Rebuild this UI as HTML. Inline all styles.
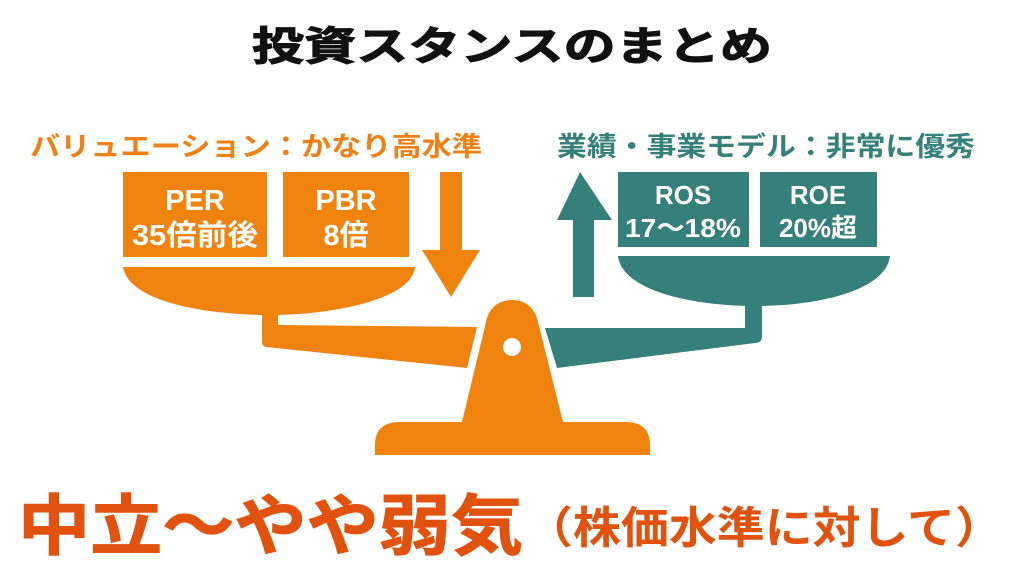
<!DOCTYPE html><html><head><meta charset="utf-8"><style>
html,body{margin:0;padding:0;background:#fff;width:1024px;height:572px;overflow:hidden}
svg text{font-family:"Liberation Sans","Noto Sans CJK JP",sans-serif;font-weight:bold}
</style></head><body>
<svg width="1024" height="572" viewBox="0 0 1024 572" xmlns="http://www.w3.org/2000/svg">
<text x="512" y="60" text-anchor="middle" font-size="40" fill="#111" stroke="#111" stroke-width="1" textLength="520" lengthAdjust="spacingAndGlyphs">投資スタンスのまとめ</text>
<text x="30" y="156" font-size="27" fill="#F08012" textLength="452" lengthAdjust="spacingAndGlyphs">バリュエーション：かなり高水準</text>
<text x="557" y="156" font-size="27" fill="#35807A" textLength="418" lengthAdjust="spacingAndGlyphs">業績・事業モデル：非常に優秀</text>
<g fill="#F0820E">
<rect x="123" y="172" width="144" height="85"/>
<rect x="283" y="172" width="126" height="85"/>
<path d="M440 172H462V250H480L451 297L422 250H440Z"/>
<path d="M123 267H415C412 300 330 315 270 315C200 315 128 300 123 267Z"/>
<path d="M262 308H278V325L477 327L467 368L266 347Q262 346 262 342Z"/>
<path d="M512 300C495 300 488 312 486 322L462 422H400Q375 422 375 445V455H650V445Q650 422 625 422H563L538 322C536 312 529 300 512 300Z"/>
</g>
<circle cx="512" cy="347" r="9" fill="#fff"/>
<g fill="#35807A">
<rect x="618" y="172" width="131" height="75"/>
<rect x="760" y="172" width="117" height="75"/>
<path d="M580 172L612 220H594V297H573V220H557Z"/>
<path d="M618 256H890C886 290 820 306 755 306C690 306 622 290 618 256Z"/>
<path d="M745 300H762V336Q762 343 755 343L557 368L545 328L745 328Z"/>
</g>
<g fill="#fff" text-anchor="middle">
<text x="195" y="210" font-size="29">PER</text><text x="195" y="245" font-size="29" textLength="126" lengthAdjust="spacingAndGlyphs">35倍前後</text>
<text x="346" y="210" font-size="29">PBR</text><text x="346" y="245" font-size="29">8倍</text>
<text x="683" y="204" font-size="26">ROS</text><text x="683" y="237" font-size="26" textLength="116" lengthAdjust="spacingAndGlyphs">17〜18%</text>
<text x="818" y="204" font-size="26">ROE</text><text x="818" y="237" font-size="26">20%超</text>
</g>
<text x="18" y="549" font-size="66" fill="#E2520F" stroke="#E2520F" stroke-width="1" textLength="505" lengthAdjust="spacingAndGlyphs">中立〜やや弱気</text>
<text x="525" y="543" font-size="44" fill="#E2520F" textLength="478" lengthAdjust="spacingAndGlyphs">（株価水準に対して）</text>
</svg>
</body></html>
